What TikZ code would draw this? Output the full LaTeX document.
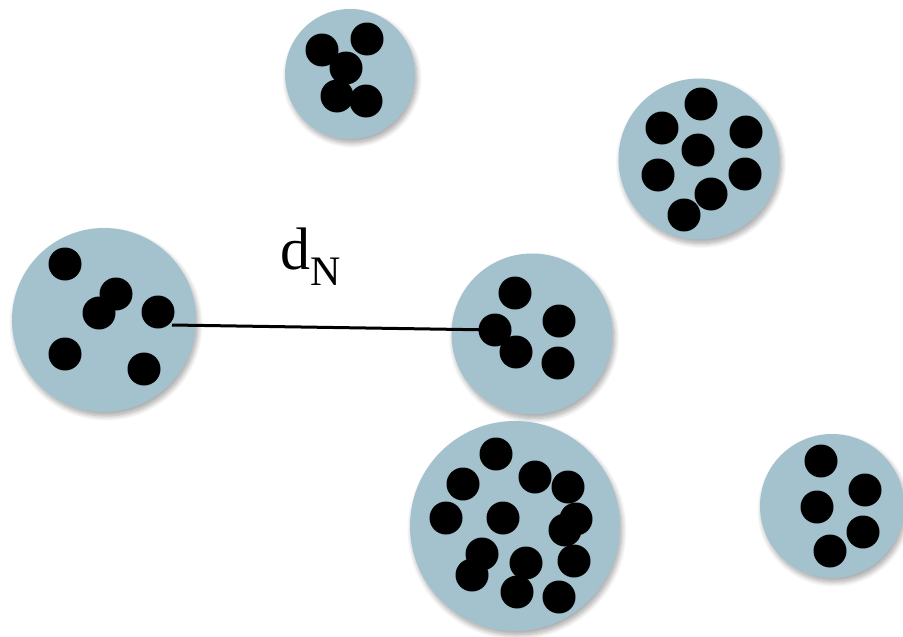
\documentclass[tikz,border=0pt]{standalone}
\usepackage{fontspec}
\setmainfont{Liberation Serif}
\usetikzlibrary{shadows.blur}
\definecolor{clusterblue}{RGB}{164,194,206}
\tikzset{
  cluster/.style={circle, fill=clusterblue, draw=none, inner sep=0pt,
    blur shadow={shadow xshift=2pt, shadow yshift=-4pt, shadow blur steps=8, shadow blur radius=5pt, shadow opacity=35}},
  dotnode/.style={circle, fill=black, draw=none, inner sep=0pt, minimum size=33pt},
  link/.style={line width=3pt, black},
}
\begin{document}
\begin{tikzpicture}[x=1pt,y=-1pt]
\useasboundingbox (0,0) rectangle (903,637);
% clusters
\node[cluster, minimum size=130pt] (c1) at (350,74) {};
\node[cluster, minimum size=161pt] (c2) at (699,159) {};
\node[cluster, minimum size=184pt] (c3) at (104,320) {};
\node[cluster, minimum size=161pt] (c4) at (532,334) {};
\node[cluster, minimum size=210pt] (c5) at (515,526) {};
\node[cluster, minimum size=144pt] (c6) at (832,506) {};
% connector
\coordinate (lstart) at (172,325);
\coordinate (lend) at (495,330);
\draw[link] (lstart) -- (lend);
% dots cluster 1
\foreach \px/\py [count=\i] in {322/50, 367/39, 346/68, 337/96, 366/101}
  \node[dotnode] (a\i) at (\px,\py) {};
% dots cluster 2
\foreach \px/\py [count=\i] in {701/104, 662/128, 746/132, 698/150, 658/175, 745/174, 711/194, 684/215}
  \node[dotnode] (b\i) at (\px,\py) {};
% dots cluster 3
\foreach \px/\py [count=\i] in {65/264, 116/294, 99/313, 158/312, 65/354, 144/369}
  \node[dotnode] (e\i) at (\px,\py) {};
% dots cluster 4
\foreach \px/\py [count=\i] in {515/293, 559/321, 495/330, 516/352, 558/363}
  \node[dotnode] (f\i) at (\px,\py) {};
% dots cluster 5
\foreach \px/\py [count=\i] in {496/454, 463/484, 535/477, 568/487, 446/518, 503/518, 576/519, 565/530, 482/554, 472/575, 526/563, 517/592, 574/561, 559/597}
  \node[dotnode] (g\i) at (\px,\py) {};
% dots cluster 6
\foreach \px/\py [count=\i] in {821/461, 865/490, 817/507, 863/532, 830/551}
  \node[dotnode] (h\i) at (\px,\py) {};
% label
\node[anchor=base west, inner sep=0pt] (dn) at (280,269)
  {\fontsize{60}{66}\selectfont d\raisebox{-16pt}{\fontsize{42}{46}\selectfont N}};
\end{tikzpicture}
\end{document}
